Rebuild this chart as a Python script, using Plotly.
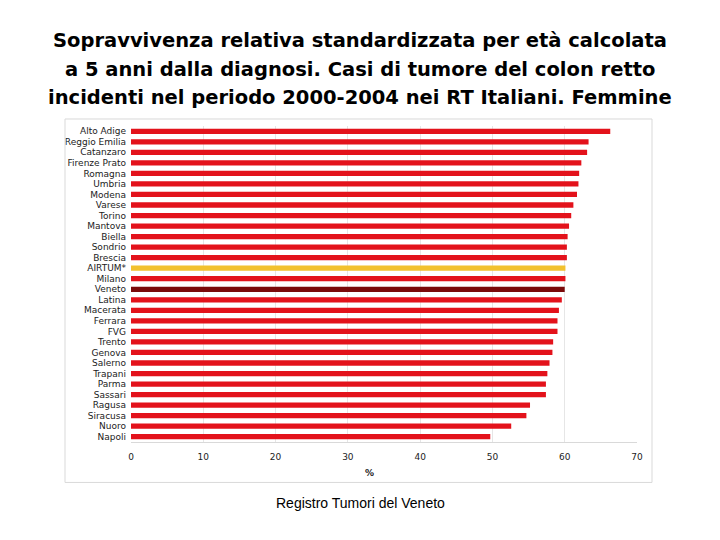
import plotly.graph_objects as go

registri = ["Alto Adige", "Reggio Emilia", "Catanzaro", "Firenze Prato", "Romagna", "Umbria",
            "Modena", "Varese", "Torino", "Mantova", "Biella", "Sondrio", "Brescia", "AIRTUM*",
            "Milano", "Veneto", "Latina", "Macerata", "Ferrara", "FVG", "Trento", "Genova",
            "Salerno", "Trapani", "Parma", "Sassari", "Ragusa", "Siracusa", "Nuoro", "Napoli"]
sopravvivenza = [66.3, 63.3, 63.1, 62.3, 62.0, 61.9, 61.7, 61.2, 60.9, 60.6, 60.4, 60.3, 60.3, 60.1,
                 60.1, 60.0, 59.6, 59.2, 59.0, 59.0, 58.4, 58.3, 57.9, 57.6, 57.4, 57.4, 55.2, 54.7,
                 52.6, 49.7]
x_ticks = [0, 10, 20, 30, 40, 50, 60, 70]
titolo = ["Sopravvivenza relativa standardizzata per età calcolata",
          "a 5 anni dalla diagnosi. Casi di tumore del colon retto",
          "incidenti nel periodo 2000-2004 nei RT Italiani. Femmine"]

colori = []
for r in registri:
    if r == "AIRTUM*":
        colori.append("#f2c12e")
    elif r == "Veneto":
        colori.append("#7a0a0a")
    else:
        colori.append("#e3121b")

fig = go.Figure(go.Bar(
    x=sopravvivenza, y=registri, orientation="h",
    marker=dict(color=colori, line=dict(width=0)),
    width=0.5,
))

W, H = 712, 532
L, T = 123, 118
PW, PH = 506, 315.6
R = W - L - PW
B = H - T - PH


def py(ypix):
    return (T + PH - ypix) / PH


def px(xpix):
    return (xpix - L) / PW


annotations = []
title_y = [33, 62, 90]
for riga, yy in zip(titolo, title_y):
    annotations.append(dict(text="<b>" + riga + "</b>", xref="paper", yref="paper", x=px(352), y=py(yy),
                            showarrow=False, xanchor="center", yanchor="middle",
                            font=dict(size=19.5, family="DejaVu Sans", color="#000")))

fig.update_layout(
    width=W, height=H,
    paper_bgcolor="white", plot_bgcolor="white",
    margin=dict(l=L, r=R, t=T, b=B, autoexpand=False),
    showlegend=False,
    font=dict(family="Liberation Sans, Arial, sans-serif", color="#000"),
    xaxis=dict(range=[0, 70], tickvals=x_ticks, showgrid=True, gridcolor="#e6e6e6", gridwidth=1,
               zeroline=False, showline=True, linecolor="#d9d9d9", linewidth=1, automargin=False,
               tickfont=dict(size=9, color="#222", family="DejaVu Sans"), ticks="", ticklabelstandoff=6),
    yaxis=dict(autorange="reversed", showgrid=False, zeroline=False, showline=False, automargin=False,
               tickmode="array", tickvals=registri, ticktext=registri,
               tickfont=dict(size=9, color="#222", family="DejaVu Sans"), ticks="",
               ticklabelstandoff=4),
    shapes=[dict(type="rect", xref="paper", yref="paper", x0=px(57), x1=px(644), y0=py(474), y1=py(111),
                 line=dict(color="#d9d9d9", width=1))],
    annotations=annotations + [
        dict(text="<b>%</b>", xref="paper", yref="paper", x=px(361), y=py(465), yanchor="middle",
             showarrow=False, font=dict(size=9, family="DejaVu Sans", color="#222")),
        dict(text="Registro Tumori del Veneto", xref="paper", yref="paper", x=px(352), y=py(495),
             yanchor="middle", showarrow=False,
             font=dict(size=14, family="Liberation Sans, Arial", color="#000")),
    ],
)

fig.write_html("out.html")
